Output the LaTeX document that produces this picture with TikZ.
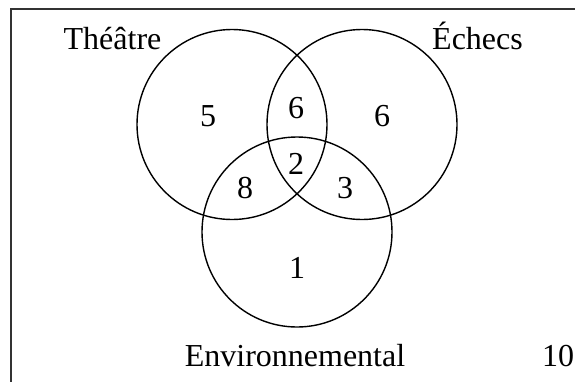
\documentclass[tikz,border=0pt]{standalone}
\usepackage{fontspec}
\setmainfont{Liberation Serif}
\begin{document}
\begin{tikzpicture}[x=1pt,y=-1pt,
  set/.style={draw=black,line width=1.4pt},
  lbl/.style={font=\fontsize{32}{38}\selectfont,inner sep=0pt,anchor=base},
  num/.style={font=\fontsize{32}{38}\selectfont,inner sep=0pt}]
\useasboundingbox (0,0) rectangle (575,381);
\clip (0,0) rectangle (575,381);
\fill[white] (0,0) rectangle (575,381);
% frame of the universe (runs past the page on the right and bottom)
\draw[line width=1.5pt,draw=black!80] (11,9) rectangle (620,420);
% the three sets
\draw[set] (232,124.5) circle[radius=95];
\draw[set] (362,124.5) circle[radius=95];
\draw[set] (297,232) circle[radius=95];
% set names
\node[lbl] (t) at (112.5,49) {Théâtre};
\node[lbl] (e) at (477.5,49) {Échecs};
\node[lbl] (v) at (295,366) {Environnemental};
\node[lbl] (u) at (558,366) {10};
% region counts
\node[num] (n5) at (208,116) {5};
\node[num] (n6a) at (296,108) {6};
\node[num] (n6b) at (382,116) {6};
\node[num] (n2) at (296,164) {2};
\node[num] (n8) at (245,188) {8};
\node[num] (n3) at (345,188) {3};
\node[num] (n1) at (297,268) {1};
\end{tikzpicture}
\end{document}
